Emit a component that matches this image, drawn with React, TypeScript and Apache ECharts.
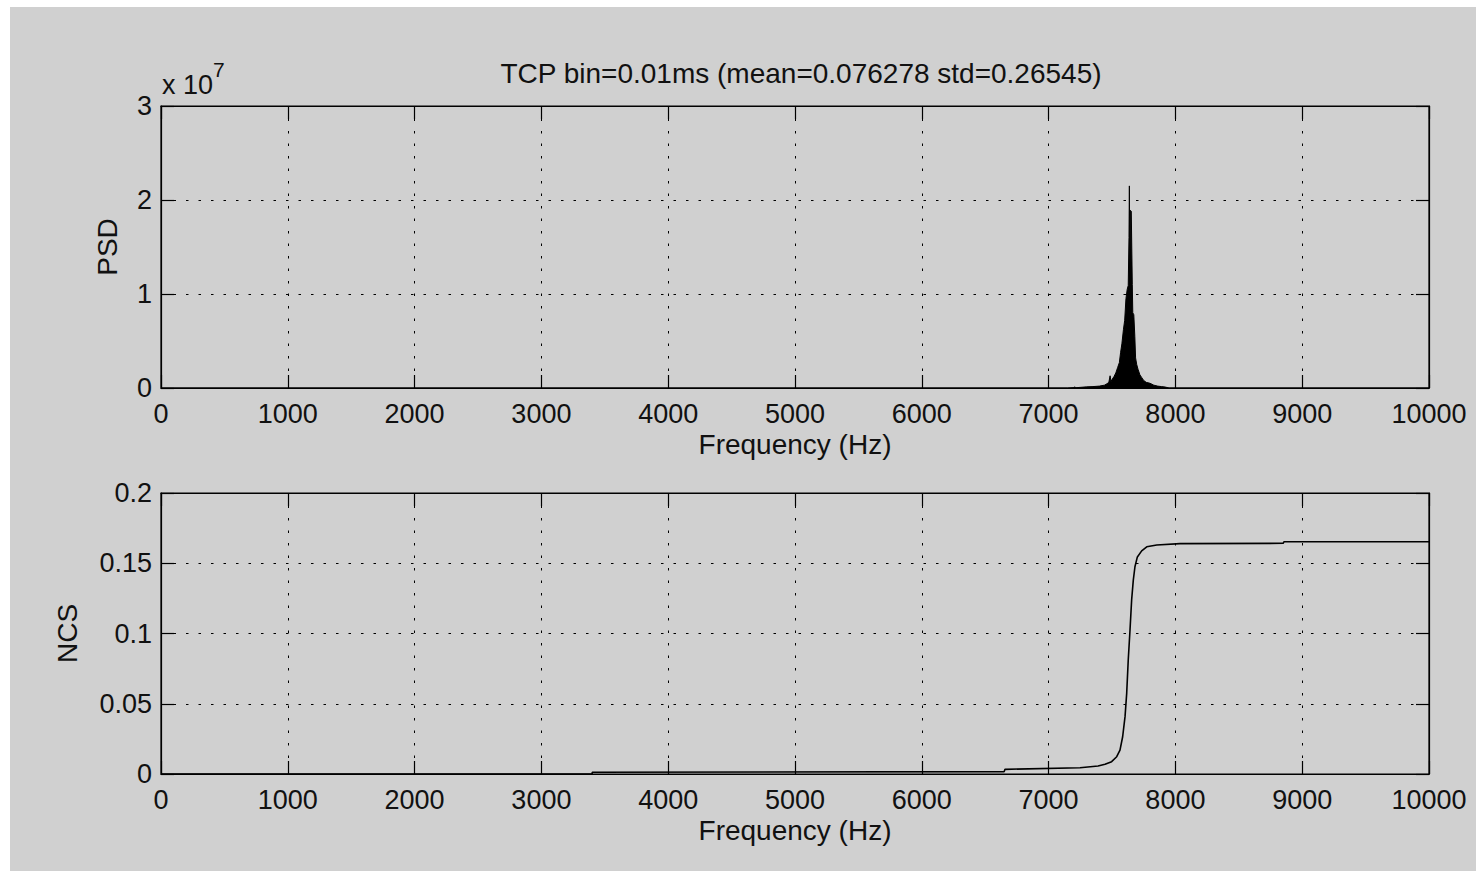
import React, { useEffect, useRef } from "react";
import * as echarts from "echarts";

// ---- data ----
const titleText = "TCP bin=0.01ms (mean=0.076278 std=0.26545)";

// PSD (units of 1e7)
const psdFreq = [
  0, 7150, 7200, 7205, 7215, 7300, 7350, 7400, 7440, 7460, 7475, 7485, 7492, 7500,
  7515, 7530, 7545, 7558, 7568, 7578, 7590, 7600, 7610, 7620, 7628, 7634, 7637, 7641,
  7645, 7652, 7660, 7664, 7672, 7680, 7686, 7695, 7705, 7720, 7735, 7750, 7770, 7800,
  7830, 7860, 7890, 7920, 7950, 10000,
];
const psdE7 = [
  0, 0, 0.004, 0.012, 0.003, 0.012, 0.015, 0.02, 0.03, 0.045, 0.06, 0.13, 0.07, 0.09,
  0.12, 0.16, 0.22, 0.27, 0.38, 0.47, 0.62, 0.72, 0.95, 1.05, 1.09, 1.6, 2.15, 1.3,
  1.89, 1.88, 1.1, 0.8, 0.78, 0.55, 0.32, 0.25, 0.2, 0.14, 0.11, 0.08, 0.06, 0.05,
  0.03, 0.02, 0.015, 0.01, 0, 0,
];

// NCS
const ncsFreq = [
  0, 3400, 3401, 6650, 6656, 7248, 7390, 7445, 7497, 7537, 7563, 7584, 7603, 7616,
  7628, 7642, 7655, 7668, 7681, 7700, 7734, 7774, 7853, 8036, 8850, 8856, 10000,
];
const ncsVal = [
  0, 0, 0.0012, 0.0017, 0.0033, 0.0045, 0.0057, 0.0069, 0.0088, 0.0123, 0.017, 0.0265,
  0.041, 0.0576, 0.081, 0.1025, 0.124, 0.138, 0.1475, 0.1545, 0.1588, 0.1617, 0.163,
  0.164, 0.1642, 0.1653, 0.1653,
];

const FONT = "Liberation Sans";
const TXT = "#111";

export default function App() {
  const ref = useRef<HTMLDivElement>(null);
  useEffect(() => {
    if (!ref.current) return;
    const chart = echarts.init(ref.current, null, { renderer: "svg" });

    const gridLine = { show: true, lineStyle: { color: "#000", width: 1, type: [2.5, 10] as any } };
    const axLine = { show: true, onZero: false, lineStyle: { color: "#000", width: 1.2 } };
    const tick = { show: true, inside: true, length: 13, lineStyle: { color: "#000", width: 1.2 } };

    const xMain = (gi: number) => ({
      type: "value",
      gridIndex: gi,
      min: 0,
      max: 10000,
      interval: 1000,
      position: "bottom",
      axisLine: axLine,
      axisTick: tick,
      splitLine: gridLine,
      axisLabel: {
        fontSize: 27,
        fontFamily: FONT,
        color: TXT,
        margin: 12,
        formatter: (v: number) => String(v),
      },
      name: "Frequency (Hz)",
      nameLocation: "middle",
      nameGap: 42,
      nameTextStyle: { fontSize: 28, fontFamily: FONT, color: TXT },
    });
    const xTop = (gi: number) => ({
      type: "value",
      gridIndex: gi,
      min: 0,
      max: 10000,
      interval: 1000,
      position: "top",
      axisLine: axLine,
      axisTick: tick,
      splitLine: { show: false },
      axisLabel: { show: false },
    });
    const yRight = (gi: number, max: number, interval: number) => ({
      type: "value",
      gridIndex: gi,
      min: 0,
      max,
      interval,
      position: "right",
      axisLine: axLine,
      axisTick: tick,
      splitLine: { show: false },
      axisLabel: { show: false },
    });

    chart.setOption({
      animation: false,
      backgroundColor: "#ffffff",
      title: {
        text: titleText,
        left: 796,
        top: 54,
        textAlign: "center",
        textStyle: { fontSize: 28, fontFamily: FONT, color: TXT, fontWeight: "normal" },
      },
      graphic: [
        {
          type: "rect",
          z: -10,
          silent: true,
          shape: { x: 10, y: 7, width: 1466, height: 864 },
          style: { fill: "#d0d0d0" },
        },
        {
          type: "text",
          left: 162,
          top: 71,
          style: { text: "x 10", fontSize: 27, fontFamily: FONT, fill: TXT },
        },
        {
          type: "text",
          left: 213,
          top: 59,
          style: { text: "7", fontSize: 21, fontFamily: FONT, fill: TXT },
        },
      ],
      grid: [
        { left: 161, top: 106, width: 1268, height: 282, show: true, borderColor: "#000", borderWidth: 1.2, backgroundColor: "transparent" },
        { left: 161, top: 493, width: 1268, height: 281, show: true, borderColor: "#000", borderWidth: 1.2, backgroundColor: "transparent" },
      ],
      xAxis: [xMain(0), xTop(0), xMain(1), xTop(1)],
      yAxis: [
        {
          type: "value",
          gridIndex: 0,
          min: 0,
          max: 3,
          interval: 1,
          axisLine: axLine,
          axisTick: tick,
          splitLine: gridLine,
          axisLabel: { fontSize: 27, fontFamily: FONT, color: TXT, margin: 9 },
          name: "PSD",
          nameLocation: "middle",
          nameGap: 40,
          nameTextStyle: { fontSize: 28, fontFamily: FONT, color: TXT },
        },
        yRight(0, 3, 1),
        {
          type: "value",
          gridIndex: 1,
          min: 0,
          max: 0.2,
          interval: 0.05,
          axisLine: axLine,
          axisTick: tick,
          splitLine: gridLine,
          axisLabel: { fontSize: 27, fontFamily: FONT, color: TXT, margin: 9 },
          name: "NCS",
          nameLocation: "middle",
          nameGap: 80,
          nameTextStyle: { fontSize: 28, fontFamily: FONT, color: TXT },
        },
        yRight(1, 0.2, 0.05),
      ],
      series: [
        {
          type: "line",
          name: "PSD",
          xAxisIndex: 0,
          yAxisIndex: 0,
          data: psdFreq.map((f, i) => [f, psdE7[i]]),
          showSymbol: false,
          lineStyle: { color: "#000", width: 1 },
          areaStyle: { color: "#000", opacity: 1 },
          z: 5,
        },
        {
          type: "line",
          name: "NCS",
          xAxisIndex: 2,
          yAxisIndex: 2,
          data: ncsFreq.map((f, i) => [f, ncsVal[i]]),
          showSymbol: false,
          lineStyle: { color: "#000", width: 1.6 },
          z: 5,
        },
      ],
    });
    return () => chart.dispose();
  }, []);

  return (
    <div style={{ position: "fixed", left: 0, top: 0, width: 1476, height: 871, background: "#fff" }}>
      <div ref={ref} style={{ width: 1476, height: 871 }} />
    </div>
  );
}
